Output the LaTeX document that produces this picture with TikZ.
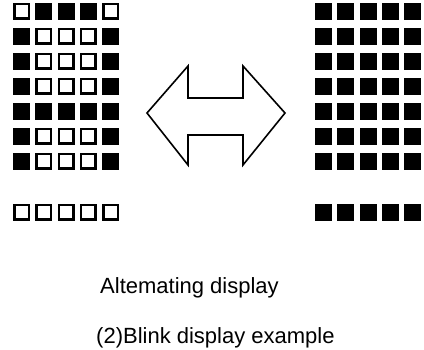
\documentclass[tikz,border=0pt]{standalone}
\usepackage{fontspec}
\setmainfont{Liberation Sans}
\usepackage{tikz}
\tikzset{
  pix/.style={rectangle, draw=black, line width=2.5pt, minimum size=14.5pt, inner sep=0pt, fill=#1},
  caption/.style={font=\fontsize{22pt}{26pt}\selectfont, inner sep=0pt, anchor=base west},
  swap/.style={draw, line width=1.6pt, line join=miter},
}

\begin{document}
\begin{tikzpicture}[x=1pt, y=-1pt]
    \useasboundingbox (0,0) rectangle (424,350);
    % left matrix: letter pattern
    \foreach \bits [count=\r from 0] in {{0,1,1,1,0},{1,0,0,0,1},{1,0,0,0,1},{1,0,0,0,1},{1,1,1,1,1},{1,0,0,0,1},{1,0,0,0,1}} {
      \foreach \b [count=\c from 0] in \bits {
        \ifnum\b=1 \def\shade{black}\else\def\shade{white}\fi
        \node[pix=\shade] (L-\r-\c) at (21.5+22.3*\c, 11.5+25*\r) {};
      }
    }
    \foreach \c in {0,...,4}
      \node[pix=white] (L-8-\c) at (21.5+22.3*\c, 212.5) {};
    % right matrix: all lit
    \foreach \r in {0,...,6,8}
      \foreach \c in {0,...,4}
        \node[pix=black] (R-\r-\c) at (323.5+22.3*\c, 11.5+25*\r+\ifnum\r=8 1\else 0\fi) {};
    % double arrow
    \draw[swap] (147,113) -- (188,66) -- (188,98) -- (243,98) -- (243,66) -- (285,113)
      -- (243,165) -- (243,135) -- (188,135) -- (188,165) -- cycle;
    \node[caption] (mode) at (100,294) {Altemating display};
    \node[caption] (title) at (96,344) {(2)Blink display example};
  \end{tikzpicture}
\end{document}
